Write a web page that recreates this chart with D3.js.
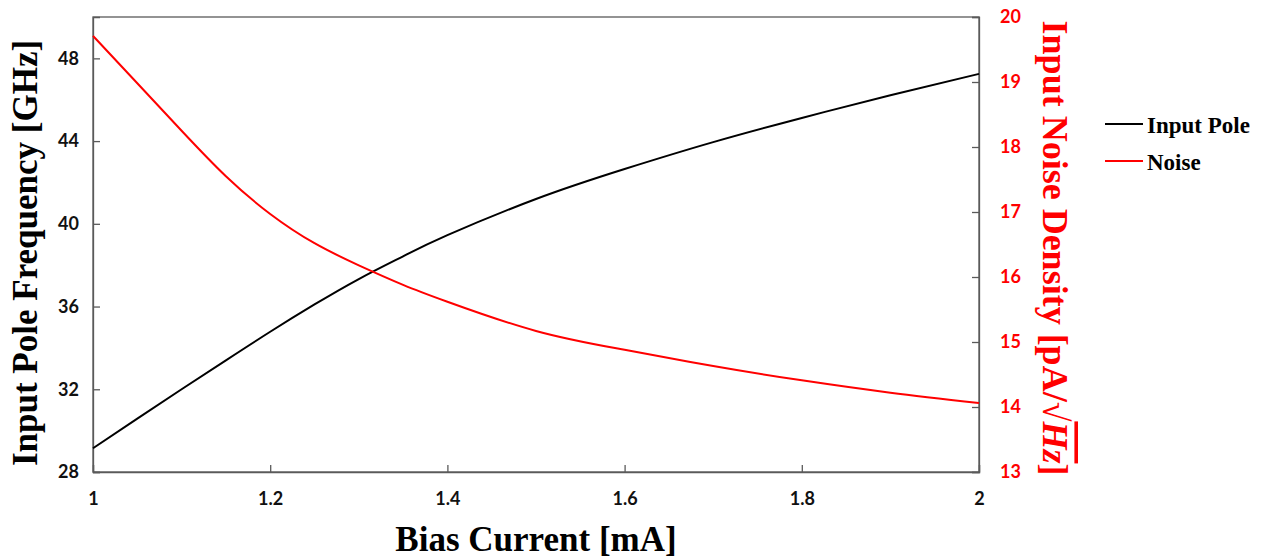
<!DOCTYPE html>
<html><head><meta charset="utf-8">
<script src="https://cdn.jsdelivr.net/npm/d3@7"></script>
<style>
html,body{margin:0;padding:0;background:#fff;}
svg{display:block;}
.tick text{font-family:Lato,"Open Sans",sans-serif;font-weight:bold;font-size:18px;}
</style></head>
<body>
<svg id="chart" width="1266" height="558"></svg>
<script>
// ---- data ----
const biasCurrent = [1.0, 1.05, 1.1, 1.15, 1.2, 1.25, 1.3, 1.35, 1.4, 1.5, 1.6, 1.7, 1.8, 1.9, 2.0];
const inputPole   = [29.15, 30.58, 32.0, 33.4, 34.78, 36.1, 37.33, 38.43, 39.45, 41.2, 42.65, 43.95, 45.12, 46.22, 47.25];
const noise       = [19.71, 18.98, 18.25, 17.55, 16.97, 16.52, 16.18, 15.88, 15.62, 15.17, 14.88, 14.63, 14.41, 14.22, 14.06];
const xTicks = [1, 1.2, 1.4, 1.6, 1.8, 2];
const leftTicks = [28, 32, 36, 40, 44, 48];
const rightTicks = [13, 14, 15, 16, 17, 18, 19, 20];
const seriesNames = ["Input Pole", "Noise"];

const svg = d3.select("#chart");
const L = 93, R = 979, T = 17, B = 472;
const x = d3.scaleLinear().domain([1, 2]).range([L, R]);
const yL = d3.scaleLinear().domain([28, 50]).range([B, T]);
const yR = d3.scaleLinear().domain([13, 20]).range([B, T]);
const frame = "#5a5a5a";

// frame
svg.append("rect").attr("x", L).attr("y", T).attr("width", R - L).attr("height", B - T)
  .attr("fill", "none").attr("stroke", frame).attr("stroke-width", 1.3);

// axes
const gx = svg.append("g").attr("transform", `translate(0,${B})`)
  .call(d3.axisBottom(x).tickValues(xTicks).tickSize(-7).tickPadding(20).tickFormat(d3.format("")));
const gl = svg.append("g").attr("transform", `translate(${L},0)`)
  .call(d3.axisLeft(yL).tickValues(leftTicks).tickSize(-7).tickPadding(14).tickFormat(d3.format("d")));
const gr = svg.append("g").attr("transform", `translate(${R},0)`)
  .call(d3.axisRight(yR).tickValues(rightTicks).tickSize(-7).tickPadding(21).tickFormat(d3.format("d")));
[gx, gl, gr].forEach(g => {
  g.select(".domain").attr("stroke", frame).attr("stroke-width", 1.3);
  g.selectAll(".tick line").attr("stroke", frame).attr("stroke-width", 1.3);
});
gx.selectAll(".tick text").attr("fill", "#111");
gl.selectAll(".tick text").attr("fill", "#111");
gr.selectAll(".tick text").attr("fill", "#ff0000");

// lines
const poleLine = d3.line().x((d, i) => x(biasCurrent[i])).y(d => yL(d)).curve(d3.curveNatural);
const noiseLine = d3.line().x((d, i) => x(biasCurrent[i])).y(d => yR(d)).curve(d3.curveNatural);
svg.append("path").attr("d", poleLine(inputPole)).attr("fill", "none").attr("stroke", "#000").attr("stroke-width", 2);
svg.append("path").attr("d", noiseLine(noise)).attr("fill", "none").attr("stroke", "#ff0000").attr("stroke-width", 2);

// axis titles
const serif = "'Liberation Serif','Times New Roman',serif";
svg.append("text").attr("transform", "translate(37,253) rotate(-90)")
  .attr("text-anchor", "middle").attr("font-family", serif).attr("font-weight", "bold")
  .attr("font-size", 35).attr("fill", "#000").text("Input Pole Frequency [GHz]");

svg.append("text").attr("x", 536).attr("y", 551)
  .attr("text-anchor", "middle").attr("font-family", serif).attr("font-weight", "bold")
  .attr("font-size", 35).attr("fill", "#000").text("Bias Current [mA]");

const rt = svg.append("text").attr("transform", "translate(1043,248) rotate(90)")
  .attr("text-anchor", "middle").attr("font-family", serif).attr("font-weight", "bold")
  .attr("font-size", 36).attr("fill", "#ff0000");
rt.append("tspan").text("Input Noise Density [pA/");
rt.append("tspan").attr("font-weight", "normal").text("√");
rt.append("tspan").attr("font-style", "italic").style("text-decoration", "overline").text("Hz");
rt.append("tspan").text("]");

// legend
const legColors = ["#000", "#ff0000"];
const legY = [124, 161];
seriesNames.forEach((name, i) => {
  svg.append("line").attr("x1", 1105).attr("x2", 1143).attr("y1", legY[i]).attr("y2", legY[i])
    .attr("stroke", legColors[i]).attr("stroke-width", 2);
  svg.append("text").attr("x", 1147).attr("y", legY[i] + 9)
    .attr("font-family", serif).attr("font-weight", "bold").attr("font-size", 23)
    .attr("fill", "#000").text(name);
});
</script>
</body></html>
